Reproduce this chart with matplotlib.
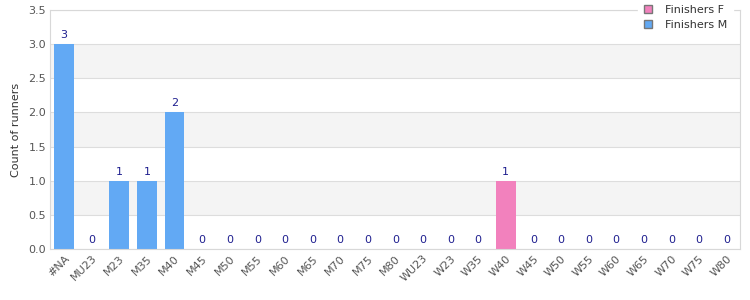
import matplotlib
matplotlib.use("Agg")
import matplotlib.pyplot as plt
from matplotlib.patches import Patch
import numpy as np

categories = ['#NA', 'MU23', 'M23', 'M35', 'M40', 'M45', 'M50', 'M55', 'M60', 'M65',
              'M70', 'M75', 'M80', 'WU23', 'W23', 'W35', 'W40', 'W45', 'W50', 'W55',
              'W60', 'W65', 'W70', 'W75', 'W80']
finishers_m = [3, 0, 1, 1, 2, 0, 0, 0, 0, 0, 0, 0, 0, 0, 0, 0, 0, 0, 0, 0, 0, 0, 0, 0, 0]
finishers_f = [0, 0, 0, 0, 0, 0, 0, 0, 0, 0, 0, 0, 0, 0, 0, 0, 1, 0, 0, 0, 0, 0, 0, 0, 0]

col_m = '#62a9f4'
col_f = '#f281bd'
txt = '#555555'

fig = plt.figure(figsize=(7.5, 3), dpi=100)
ax = fig.add_axes([0.067, 0.17, 0.92, 0.797])

x = np.arange(len(categories))
m = np.array(finishers_m)
f = np.array(finishers_f)

# grey bands
for lo in [0.5, 1.5, 2.5]:
    ax.axhspan(lo, lo + 0.5, color='#f4f4f4', zorder=0, lw=0)
ax.yaxis.grid(True, color='#dddddd', lw=0.8, zorder=1)
ax.set_axisbelow(True)

ax.bar(x, m, width=0.72, color=col_m, zorder=2)
ax.bar(x, f, width=0.72, bottom=m, color=col_f, zorder=2)

tot = m + f
for xi, t in zip(x, tot):
    ax.text(xi, t + 0.06, str(t), ha='center', va='bottom', fontsize=8, color='#1f1f8f')

ax.set_xlim(-0.5, len(categories) - 0.5)
ax.set_ylim(0, 3.5)
ax.set_yticks(np.arange(0, 3.51, 0.5))
ax.set_yticklabels(['%.1f' % v for v in np.arange(0, 3.51, 0.5)])
ax.set_xticks(x)
ax.set_xticklabels(categories, rotation=45, ha='right', rotation_mode='anchor')
ax.tick_params(axis='both', labelsize=8, colors=txt, length=0, pad=3)
ax.set_ylabel('Count of runners', fontsize=8, color='#333333', labelpad=5)

for s in ax.spines.values():
    s.set_color('#d8d8d8')
    s.set_linewidth(0.8)

handles = [Patch(facecolor=col_f, edgecolor='#777777', label='Finishers F'),
           Patch(facecolor=col_m, edgecolor='#777777', label='Finishers M')]
leg = ax.legend(handles=handles, loc='upper right', bbox_to_anchor=(0.993, 1.055),
                fontsize=8, frameon=True, handlelength=0.7, handleheight=0.7,
                borderpad=0.25, labelspacing=0.45, handletextpad=1.2)
leg.get_frame().set_edgecolor('white')
leg.get_frame().set_facecolor('white')
leg.get_frame().set_alpha(1)
leg.get_frame().set_boxstyle('square', pad=0.3)
for t in leg.get_texts():
    t.set_color('#333333')
leg.set_zorder(5)

fig.savefig('out.png', dpi=100)
